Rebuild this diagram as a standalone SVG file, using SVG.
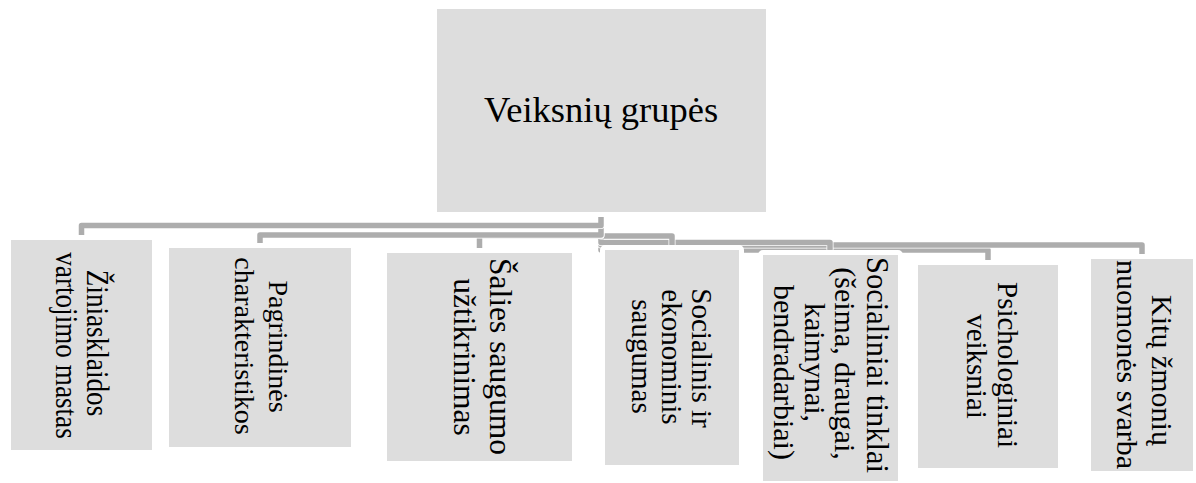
<svg xmlns="http://www.w3.org/2000/svg" width="1196" height="483" viewBox="0 0 1196 483">
<style>
.box{fill:#dddddd;stroke:#ffffff;stroke-width:10;stroke-linejoin:round;paint-order:stroke}
.t{font-family:"Liberation Serif","Times New Roman",serif;fill:#000000;text-anchor:middle}
.cas{fill:none;stroke:#ffffff;stroke-width:7;stroke-linejoin:round}
.ln{fill:none;stroke:#adadad;stroke-width:5.5;stroke-linejoin:round}
</style>
<rect width="1196" height="483" fill="#ffffff"/>
<g id="connectors">
<path class="cas" d="M601,212 V250 H988 V265"/><path class="ln" d="M601,212 V250 H988 V265"/>
<path class="cas" d="M601,212 V245 H1142 V259"/><path class="ln" d="M601,212 V245 H1142 V259"/>
<path class="cas" d="M601,212 V242.5 H830 V255"/><path class="ln" d="M601,212 V242.5 H830 V255"/>
<path class="cas" d="M601,212 V236 H672 V250"/><path class="ln" d="M601,212 V236 H672 V250"/>
<path class="cas" d="M601,212 V235.5 H479.5 V253"/><path class="ln" d="M601,212 V235.5 H479.5 V253"/>
<path class="cas" d="M601,212 V235 H260 V248"/><path class="ln" d="M601,212 V235 H260 V248"/>
<path class="cas" d="M601,212 V225.5 H81.5 V240"/><path class="ln" d="M601,212 V225.5 H81.5 V240"/>
</g>
<g id="root">
<rect class="box" x="437" y="9" width="329" height="203"/>
<text class="t" x="601" y="122" font-size="36.5">Veiksnių grupės</text>
</g>
<g id="n1">
<rect class="box" x="11" y="240" width="141" height="210"/>
<text class="t" font-size="32" transform="translate(87,343) rotate(90) scale(0.85,1)">Žiniasklaidos</text>
<text class="t" font-size="32" transform="translate(56,345.5) rotate(90) scale(0.85,1)">vartojimo mastas</text>
</g>
<g id="n2">
<rect class="box" x="169" y="248" width="182" height="199"/>
<text class="t" font-size="28" transform="translate(268.5,346.5) rotate(90)">Pagrindinės</text>
<text class="t" font-size="28" transform="translate(235,346) rotate(90)">charakteristikos</text>
</g>
<g id="n3">
<rect class="box" x="387" y="253" width="185" height="208"/>
<text class="t" font-size="31.5" transform="translate(490,356.5) rotate(90)">Šalies saugumo</text>
<text class="t" font-size="31.5" transform="translate(454,357) rotate(90)">užtikrinimas</text>
</g>
<g id="n4">
<rect class="box" x="605" y="250" width="134" height="215"/>
<text class="t" font-size="29" transform="translate(692,358) rotate(90)">Socialinis ir</text>
<text class="t" font-size="29" transform="translate(662,357) rotate(90)">ekonominis</text>
<text class="t" font-size="29" transform="translate(632,356.5) rotate(90)">saugumas</text>
</g>
<g id="n5">
<rect class="box" x="763" y="255" width="135" height="226"/>
<text class="t" font-size="30.5" text-anchor="start" style="text-anchor:start" transform="translate(867,257) rotate(90)">Socialiniai tinklai</text>
<text class="t" font-size="30" transform="translate(835,363.5) rotate(90)">(šeima, draugai,</text>
<text class="t" font-size="30" transform="translate(805,362.5) rotate(90)">kaimynai,</text>
<text class="t" font-size="30" transform="translate(774,372.5) rotate(90)">bendradarbiai)</text>
</g>
<g id="n6">
<rect class="box" x="918" y="265" width="140" height="203"/>
<text class="t" font-size="29" transform="translate(998,365) rotate(90)">Psichologiniai</text>
<text class="t" font-size="29" transform="translate(967,366.5) rotate(90)">veiksniai</text>
</g>
<g id="n7">
<rect class="box" x="1091" y="259" width="102" height="212"/>
<text class="t" font-size="30" transform="translate(1152,370.5) rotate(90)">Kitų žmonių</text>
<text class="t" font-size="30" transform="translate(1117,364.5) rotate(90)">nuomonės svarba</text>
</g>
</svg>
